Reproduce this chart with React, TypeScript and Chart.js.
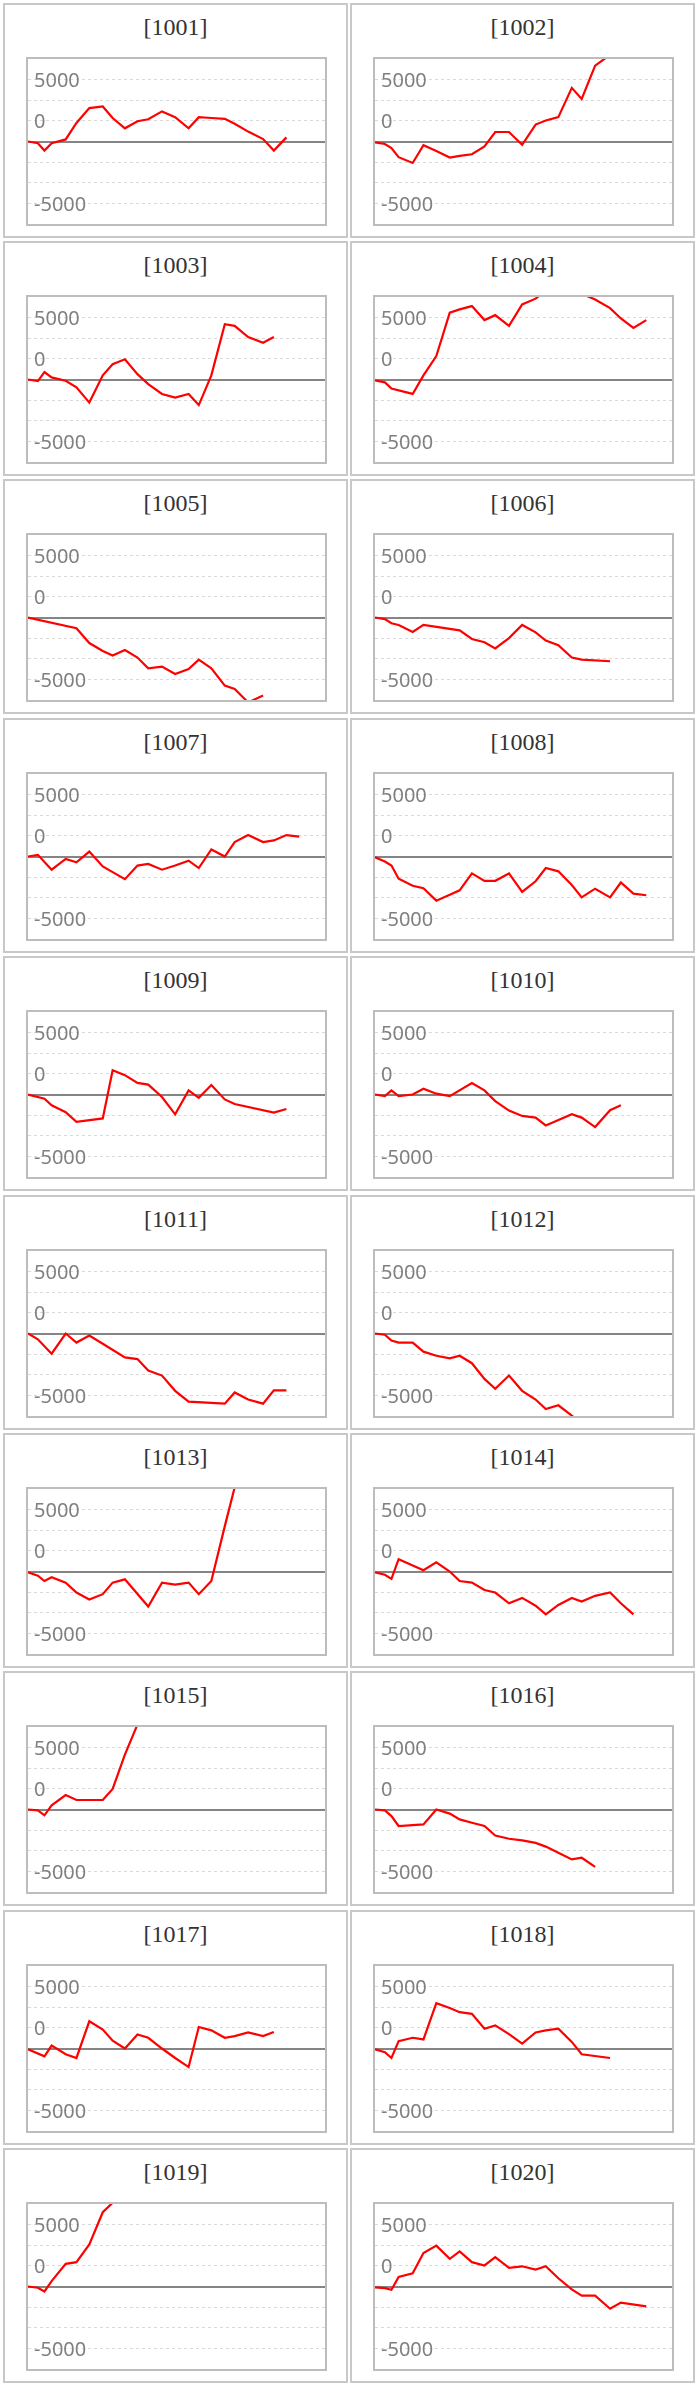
import { useEffect, useRef } from "react"
import { Chart, registerables } from "chart.js"

Chart.register(...registerables)

// trading-day positions shared by every panel (% of the period shown)
const dayMarks = [0, 3.3, 5.5, 7.9, 12.6, 16.2, 20.5, 25.0, 28.3, 32.4, 36.6, 40.2, 44.8, 49.2, 53.7, 57.1, 61.3, 65.8, 69.1, 73.6, 78.6, 82.2, 86.4, 90.7]
const X_MAX = 99.3

// value axis: dotted grid every 2500, labels only on some lines
const gridValues = [-10000, -7500, -5000, -2500, 0, 2500, 5000, 7500, 10000]
const labelledTicks = [7500, 2500, -7500]
const tickLabels = ["5000", "0", "-5000"]

const accountIds = [
  "1001", "1002", "1003", "1004", "1005", "1006", "1007", "1008", "1009", "1010",
  "1011", "1012", "1013", "1014", "1015", "1016", "1017", "1018", "1019", "1020",
]

const v1001 = [0, -200, -1100, -200, 250, 2250, 4050, 4250, 2850, 1600, 2450, 2700, 3650, 2950, 1600, 2950, 2850, 2750, 2150, 1200, 300, -1100, 500]
const v1002 = [-100, -300, -800, -1900, -2600, -450, -1150, -1950, -1750, -1550, -600, 1150, 1150, -400, 2050, 2550, 2950, 6500, 5150, 9200, 10500]
const v1003 = [0, -200, 900, 250, -150, -950, -2800, 500, 1850, 2450, 650, -550, -1750, -2200, -1750, -3100, 500, 6700, 6500, 5150, 4450, 5150]
const v1004 = [-100, -350, -1100, null, -1750, 500, 2850, 8100, 8500, 8900, 7200, 7800, 6500, 9100, 9800, 10800, 11500, 11200, 10400, 9700, 8650, 7400, 6250, 7200]
const v1005 = [0, null, null, null, null, -1300, -3100, -4050, -4600, -3950, -4850, -6150, -5950, -6850, -6250, -5100, -6150, -8250, -8650, -10300, -9450]
const v1006 = [0, -200, -700, -900, -1750, -900, null, null, -1550, -2600, -3000, -3750, -2500, -900, -1800, -2800, -3350, -4850, -5100, null, -5300]
const v1007 = [0, 200, null, -1600, -300, -700, 600, -1200, -1900, -2750, -1100, -900, -1600, -1100, -500, -1400, 850, 0, 1750, 2600, 1750, 1950, 2600, 2400]
const v1008 = [-100, -600, -1100, -2700, -3550, -3850, -5350, -4650, -4100, -2050, -2950, -2950, -2050, -4300, -3000, -1400, -1800, -3450, -4950, -3900, -4950, -3150, -4500, -4700]
const v1009 = [0, null, -500, -1300, -2150, -3300, null, -2900, 2950, 2350, 1400, 1200, -300, -2400, 500, -400, 1150, -600, -1150, null, null, -2200, -1750]
const v1010 = [0, -200, 500, -200, 0, 700, 100, -200, null, 1400, 500, -800, -1950, -2600, -2800, -3750, null, -2400, -2800, -3950, -1900, -1300]
const v1011 = [0, -700, null, -2450, 0, -1100, -250, -1250, null, -2900, -3100, -4500, -5100, -6950, -8250, null, null, -8500, -7150, -8000, -8500, -6900, -6900]
const v1012 = [0, -150, -850, -1100, -1100, -2200, -2700, -3000, -2700, -3600, -5500, -6700, -5100, -6950, -8000, -9150, -8700, -9950, -11000]
const v1013 = [-100, -500, -1150, -700, -1350, -2550, -3400, -2750, -1350, -950, null, -4250, -1350, -1600, -1350, -2750, -1150, 5500, 10200]
const v1014 = [-100, -400, -900, 1500, null, 150, 1100, 0, -1150, -1350, -2250, -2550, -3850, -3200, -4150, -5200, -4050, -3200, -3650, -2950, -2550, -3850, -5200]
const v1015 = [0, -100, -700, 500, 1750, 1150, 1150, 1150, 2500, 6650, 10300]
const v1016 = [0, -100, -800, -2000, null, -1800, 0, -500, -1200, -1600, -2000, -3150, -3550, -3750, -4050, -4500, -5250, -6050, -5850, -6950]
const v1017 = [-100, null, -950, 350, -700, -1150, 3300, 2300, 950, 0, 1700, 1300, 0, -1150, -2250, 2600, 2200, 1300, 1500, 1950, 1500, 2000]
const v1018 = [-100, -450, -1150, 900, 1300, 1100, 5500, 4900, 4400, 4200, 2400, 2800, 1750, 600, 1950, 2200, 2400, 800, -700, null, -1150]
const v1019 = [0, -150, -600, 650, 2750, 2950, 5100, 9000, 10150]
const v1020 = [-100, -200, -400, 1150, 1600, 4050, 4950, 3350, 4250, 2950, 2550, 3550, 2250, 2450, 2050, 2450, 1000, -350, -1100, -1100, -2700, -1950, null, -2400]

const accountSeries = [
  v1001, v1002, v1003, v1004, v1005, v1006, v1007, v1008, v1009, v1010,
  v1011, v1012, v1013, v1014, v1015, v1016, v1017, v1018, v1019, v1020,
]

function MiniChart({ values }: { values: (number | null)[] }) {
  const canvasRef = useRef<HTMLCanvasElement>(null)

  useEffect(() => {
    if (!canvasRef.current) return

    const chart = new Chart(canvasRef.current, {
      type: "line",
      data: {
        datasets: [
          {
            data: values.map((v, i) => ({ x: dayMarks[i], y: v })),
            borderColor: "#ff0000",
            borderWidth: 2.2,
            pointRadius: 0,
            tension: 0,
            spanGaps: true,
          },
        ],
      },
      options: {
        animation: false,
        responsive: false,
        events: [],
        layout: { padding: 0 },
        plugins: { legend: { display: false }, tooltip: { enabled: false } },
        scales: {
          x: { type: "linear", min: 0, max: X_MAX, display: false },
          y: {
            type: "linear",
            position: "left",
            min: -10000,
            max: 10000,
            afterBuildTicks: (scale: any) => {
              scale.ticks = gridValues.map((value) => ({ value }))
            },
            afterFit: (scale: any) => {
              scale.width = 0
              scale.paddingTop = 0
              scale.paddingBottom = 0
            },
            grid: {
              drawTicks: false,
              lineWidth: 1,
              color: (ctx: any) => {
                const v = ctx.tick ? ctx.tick.value : 0
                return v === 0 || Math.abs(v) === 10000 ? "rgba(0,0,0,0)" : "#d9d9d9"
              },
            },
            border: { display: false, dash: [3, 3] },
            ticks: {
              mirror: true,
              padding: 6,
              labelOffset: 1.5,
              autoSkip: false,
              color: "#808080",
              font: { family: "'Noto Sans', sans-serif", size: 20 },
              callback: (value: any) => {
                const k = labelledTicks.indexOf(Number(value))
                return k >= 0 ? tickLabels[k] : ""
              },
            },
          },
          // solid zero line
          zero: {
            type: "linear",
            axis: "y",
            position: "left",
            min: -10000,
            max: 10000,
            afterBuildTicks: (scale: any) => {
              scale.ticks = [{ value: 0 }]
            },
            afterFit: (scale: any) => {
              scale.width = 0
            },
            grid: { drawTicks: false, color: "#858585", lineWidth: 2 },
            border: { display: false },
            ticks: { display: false },
          },
        },
      },
    } as any)

    return () => chart.destroy()
  }, [values])

  return <canvas ref={canvasRef} width={297} height={165} style={{ display: "block" }} />
}

function Panel({ id, values, index }: { id: string; values: (number | null)[]; index: number }) {
  const row = Math.floor(index / 2)
  const col = index % 2
  return (
    <div
      style={{
        position: "absolute",
        left: col === 0 ? 3 : 350,
        top: 2.5 + row * 238.4,
        width: 345,
        height: 235,
        boxSizing: "border-box",
        border: "2px solid #c8c8c8",
        background: "#fff",
      }}
    >
      <div
        style={{
          position: "absolute",
          left: 0,
          right: 0,
          top: 10,
          textAlign: "center",
          fontFamily: "'Liberation Serif', serif",
          fontSize: 24,
          lineHeight: "24px",
          color: "#333",
        }}
      >
        [{id}]
      </div>
      <div
        style={{
          position: "absolute",
          left: 20.7,
          top: 52,
          width: 301,
          height: 169,
          boxSizing: "border-box",
          border: "2px solid #bdbdbd",
        }}
      >
        <MiniChart values={values} />
      </div>
    </div>
  )
}

export default function App() {
  return (
    <div style={{ position: "absolute", left: 0, top: 0, width: 699, height: 2386, background: "#fff" }}>
      {accountIds.map((id, i) => (
        <Panel key={id} id={id} values={accountSeries[i]} index={i} />
      ))}
    </div>
  )
}
